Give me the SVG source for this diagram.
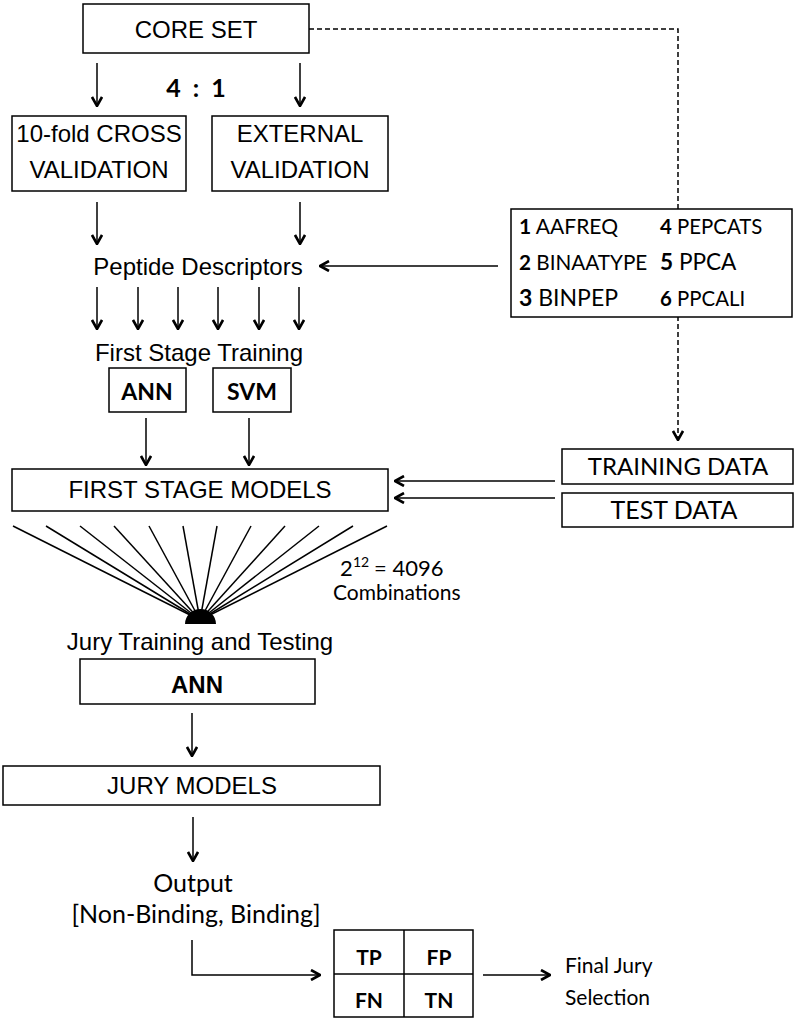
<svg xmlns="http://www.w3.org/2000/svg" width="798" height="1022" viewBox="0 0 798 1022">
<defs>
<marker id="ah" viewBox="0 0 12 12" refX="11" refY="6" markerWidth="12" markerHeight="12" orient="auto" markerUnits="userSpaceOnUse">
<path d="M2,1 L11,6 L2,11" fill="none" stroke="#000" stroke-width="2.6"/>
</marker>
<style>
.box{fill:#fff;stroke:#000;stroke-width:1.5}
.ar{fill:none;stroke:#000;stroke-width:1.5;marker-end:url(#ah)}
.ln{fill:none;stroke:#000;stroke-width:1.5}
.ds{fill:none;stroke:#000;stroke-width:1.5;stroke-dasharray:5,3}
.a{font-family:"Liberation Sans",Arial,sans-serif;font-size:24px;fill:#000}
.ab{font-family:"Liberation Sans",Arial,sans-serif;font-size:24px;font-weight:bold;fill:#000}
.c{font-family:Lato,"Open Sans",sans-serif;fill:#000}
.cb{font-family:Lato,"Open Sans",sans-serif;font-weight:bold;fill:#000}
.m{text-anchor:middle}
</style>
</defs>
<rect width="798" height="1022" fill="#fff"/>
<g id="connectors">
<path class="ds" d="M309,29 H678 V440" marker-end="url(#ah)"/>
<path class="ar" d="M97,63 V106"/>
<path class="ar" d="M300,63 V106"/>
<path class="ar" d="M97,202 V244"/>
<path class="ar" d="M300,202 V244"/>
<path class="ar" d="M498,266 H320"/>
<path class="ar" d="M97,287 V329"/>
<path class="ar" d="M138,287 V329"/>
<path class="ar" d="M178,287 V329"/>
<path class="ar" d="M218,287 V329"/>
<path class="ar" d="M259,287 V329"/>
<path class="ar" d="M299,287 V329"/>
<path class="ar" d="M146,418 V465"/>
<path class="ar" d="M249,418 V465"/>
<path class="ar" d="M555,481 H395"/>
<path class="ar" d="M555,498 H395"/>
<g class="ln">
<line x1="13" y1="526" x2="200" y2="620"/>
<line x1="46" y1="526" x2="200" y2="620"/>
<line x1="80" y1="526" x2="200" y2="620"/>
<line x1="114" y1="526" x2="200" y2="620"/>
<line x1="149" y1="526" x2="200" y2="620"/>
<line x1="183" y1="526" x2="200" y2="620"/>
<line x1="217" y1="526" x2="200" y2="620"/>
<line x1="251" y1="526" x2="200" y2="620"/>
<line x1="285" y1="526" x2="200" y2="620"/>
<line x1="319" y1="526" x2="200" y2="620"/>
<line x1="353" y1="526" x2="200" y2="620"/>
<line x1="387" y1="526" x2="200" y2="620"/>
</g>
<path d="M185,624 A15.5,15 0 0 1 216,624 Z" fill="#000"/>
<path class="ar" d="M192,713 V756"/>
<path class="ar" d="M193,817 V861"/>
<path class="ar" d="M192,940 V975 H320"/>
<path class="ar" d="M483,975 H550"/>
</g>
<g id="core-set">
<rect class="box" x="83" y="4" width="226" height="49"/>
<text class="a m" x="196" y="38">CORE SET</text>
</g>
<g id="ratio">
<text class="c m" x="196" y="97" style="font-size:25px;font-weight:bold" word-spacing="6">4 : 1</text>
</g>
<g id="cross-validation">
<rect class="box" x="12" y="116" width="174" height="75"/>
<text class="a m" x="99" y="142">10-fold CROSS</text>
<text class="a m" x="99" y="178">VALIDATION</text>
</g>
<g id="external-validation">
<rect class="box" x="212" y="116" width="176" height="75"/>
<text class="a m" x="300" y="142">EXTERNAL</text>
<text class="a m" x="300" y="178">VALIDATION</text>
</g>
<g id="peptide-descriptors">
<text class="a m" x="198" y="275">Peptide Descriptors</text>
</g>
<g id="descriptor-list">
<rect class="box" x="511" y="209" width="281" height="108"/>
<text class="c" x="519" y="234" style="font-size:21px"><tspan font-weight="bold">1</tspan> AAFREQ</text>
<text class="c" x="519" y="270" style="font-size:20.7px"><tspan font-weight="bold">2</tspan> BINAATYPE</text>
<text class="c" x="519" y="306" style="font-size:23px"><tspan font-weight="bold">3</tspan> BINPEP</text>
<text class="c" x="660" y="234" style="font-size:20.4px"><tspan font-weight="bold">4</tspan> PEPCATS</text>
<text class="c" x="660" y="270" style="font-size:22.6px"><tspan font-weight="bold">5</tspan> PPCA</text>
<text class="c" x="660" y="306" style="font-size:20.4px"><tspan font-weight="bold">6</tspan> PPCALI</text>
</g>
<g id="first-stage-training">
<text class="a m" x="199" y="361">First Stage Training</text>
</g>
<g id="ann-1">
<rect class="box" x="109" y="368" width="77" height="44"/>
<text class="cb m" x="147" y="400" style="font-size:23px">ANN</text>
</g>
<g id="svm">
<rect class="box" x="213" y="368" width="78" height="44"/>
<text class="cb m" x="252" y="400" style="font-size:23px">SVM</text>
</g>
<g id="first-stage-models">
<rect class="box" x="12" y="469" width="376" height="42"/>
<text class="a m" x="200" y="498">FIRST STAGE MODELS</text>
</g>
<g id="training-data">
<rect class="box" x="562" y="449" width="231" height="35"/>
<text class="c m" x="678" y="475" style="font-size:24px">TRAINING DATA</text>
</g>
<g id="test-data">
<rect class="box" x="562" y="493" width="231" height="34"/>
<text class="c m" x="674" y="519" style="font-size:25px">TEST DATA</text>
</g>
<g id="combinations">
<text class="c" x="340" y="576" style="font-size:22px">2</text>
<text class="c" x="353" y="567" style="font-size:14px">12</text>
<text class="c" x="374" y="576" style="font-size:22px">= 4096</text>
<text class="c" x="333" y="600" style="font-size:21px">Combinations</text>
</g>
<g id="jury-training">
<text class="a m" x="200" y="650">Jury Training and Testing</text>
</g>
<g id="ann-2">
<rect class="box" x="80" y="659" width="235" height="45"/>
<text class="ab m" x="197" y="693">ANN</text>
</g>
<g id="jury-models">
<rect class="box" x="3" y="766" width="377" height="39"/>
<text class="a m" x="192" y="794">JURY MODELS</text>
</g>
<g id="output">
<text class="c m" x="193" y="892" style="font-size:25px">Output</text>
<text class="c m" x="196" y="923" style="font-size:25px">[Non-Binding, Binding]</text>
</g>
<g id="confusion-matrix">
<rect class="box" x="334" y="930" width="139" height="87"/>
<line class="ln" x1="404" y1="930" x2="404" y2="1017"/>
<line class="ln" x1="334" y1="974" x2="473" y2="974"/>
<text class="cb m" x="369" y="965" style="font-size:21px">TP</text>
<text class="cb m" x="439" y="965" style="font-size:21px">FP</text>
<text class="cb m" x="369" y="1008" style="font-size:21px">FN</text>
<text class="cb m" x="439" y="1008" style="font-size:21px">TN</text>
</g>
<g id="final-jury">
<text class="c" x="565" y="973" style="font-size:21px">Final Jury</text>
<text class="c" x="565" y="1005" style="font-size:21px">Selection</text>
</g>
</svg>
